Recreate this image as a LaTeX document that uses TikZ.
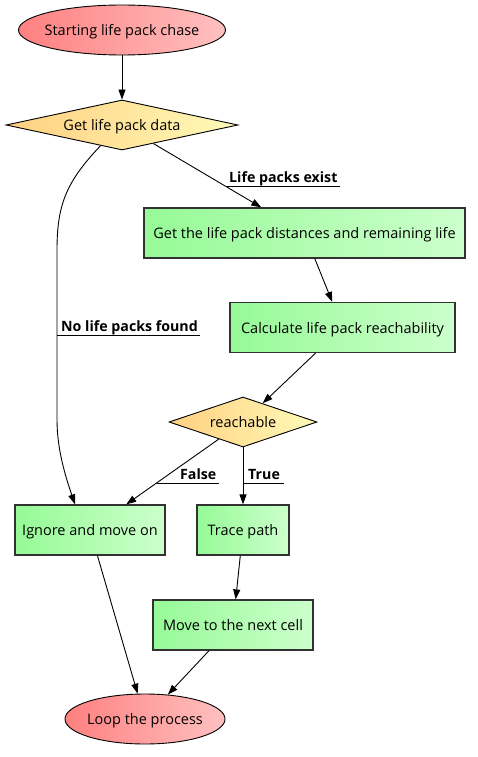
\documentclass[tikz,border=0pt]{standalone}
\usepackage{fontspec}
\setmainfont{Open Sans}
\usetikzlibrary{shapes.geometric,arrows.meta}
\definecolor{redL}{RGB}{255,128,128}
\definecolor{redR}{RGB}{255,192,192}
\definecolor{orL}{RGB}{255,208,128}
\definecolor{orR}{RGB}{255,250,185}
\definecolor{grL}{RGB}{150,250,150}
\definecolor{grR}{RGB}{204,255,204}
\definecolor{bord}{RGB}{50,50,50}
\tikzset{
  nfont/.style={font=\fontsize{14.5}{17}\selectfont, text depth=0pt},
  term/.style={ellipse, draw=black, line width=0.9pt, shading=axis, left color=redL, right color=redR, shading angle=90, inner sep=0pt},
  decis/.style={diamond, draw=black, line width=0.9pt, left color=orL, right color=orR, inner sep=0pt, nfont},
  proc/.style={rectangle, draw=bord, line width=1.2pt, left color=grL, right color=grR, inner sep=0pt, minimum height=50pt, nfont},
  conn/.style={line width=0.9pt, -{Triangle[length=10pt,width=7pt]}},
  elab/.style={font=\bfseries\fontsize{14.2}{17}\selectfont, inner sep=0pt, anchor=base west},
  uline/.style={line width=0.9pt},
}
\begin{document}
\begin{tikzpicture}[x=1pt,y=-1pt]
\useasboundingbox (0,0) rectangle (478,757);
\node[term, minimum width=207pt, minimum height=50pt, label={[nfont]center:Starting life pack chase}] (start) at (122,30) {};
\node[decis, aspect=4.64, minimum width=232pt, minimum height=50pt] (gd) at (122,125) {Get life pack data};
\node[proc, minimum width=321pt] (dist) at (304.5,233) {Get the life pack distances and remaining life};
\node[proc, minimum width=225pt] (calc) at (342.5,327.5) {Calculate life pack reachability};
\node[decis, aspect=2.96, minimum width=148pt, minimum height=50pt] (reach) at (243,422) {reachable};
\node[proc, minimum width=150pt] (ign) at (90,530) {Ignore and move on};
\node[proc, minimum width=92pt] (trace) at (243,530) {Trace path};
\node[proc, minimum width=160pt] (move) at (233,625) {Move to the next cell};
\node[term, minimum width=160pt, minimum height=50pt, label={[nfont]center:Loop the process}] (loop) at (145,719) {};

\draw[conn] (start) -- (gd);
\draw[conn] (gd) -- (dist);
\draw[conn] (gd.224) .. controls (66,182) and (57,205) .. (57,250) -- (57,420) .. controls (57,450) and (66,478) .. (ign.north -| 75,0);
\draw[conn] (dist) -- (calc);
\draw[conn] (calc) -- (reach);
\draw[conn] (reach) -- (ign);
\draw[conn] (reach) -- (trace);
\draw[conn] (ign) -- (loop);
\draw[conn] (trace) -- (move);
\draw[conn] (move) -- (loop);

\node[elab] (l1) at (229,182) {Life packs exist};
\coordinate (u1) at (226,186);
\draw[uline] (u1) -- (340,186);
\node[elab] (l2) at (61,331) {No life packs found};
\coordinate (u2) at (57,335);
\draw[uline] (u2) -- (200,335);
\node[elab] (l3) at (180,479) {False};
\coordinate (u3) at (157,483);
\draw[uline] (u3) -- (219,483);
\node[elab] (l4) at (248,479) {True};
\coordinate (u4) at (243,483);
\draw[uline] (u4) -- (284,483);
\end{tikzpicture}
\end{document}
